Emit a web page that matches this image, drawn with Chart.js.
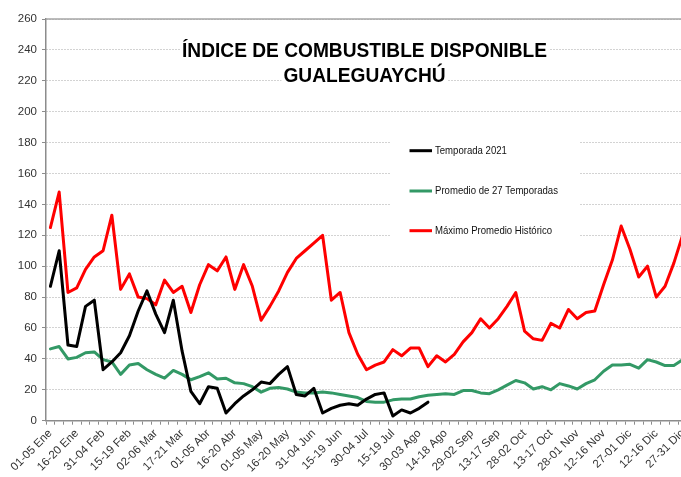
<!DOCTYPE html>
<html>
<head>
<meta charset="utf-8">
<script src="https://cdn.jsdelivr.net/npm/chart.js@4.4.1/dist/chart.umd.min.js"></script>
<style>
html,body{margin:0;padding:0;background:#fff;overflow:hidden;width:681px;height:477px}
#wrap{width:687px;height:477px}
</style>
</head>
<body>
<div id="wrap"><canvas id="c" width="687" height="477"></canvas></div>
<script>
const titleLines = ['ÍNDICE DE COMBUSTIBLE DISPONIBLE', 'GUALEGUAYCHÚ'];

const categories = [
  '01-05 Ene','06-10 Ene','11-15 Ene','16-20 Ene','21-25 Ene','26-30 Ene',
  '31-04 Feb','05-09 Feb','10-14 Feb','15-19 Feb','20-24 Feb','25-01 Mar',
  '02-06 Mar','07-11 Mar','12-16 Mar','17-21 Mar','22-26 Mar','27-31 Mar',
  '01-05 Abr','06-10 Abr','11-15 Abr','16-20 Abr','21-25 Abr','26-30 Abr',
  '01-05 May','06-10 May','11-15 May','16-20 May','21-25 May','26-30 May',
  '31-04 Jun','05-09 Jun','10-14 Jun','15-19 Jun','20-24 Jun','25-29 Jun',
  '30-04 Jul','05-09 Jul','10-14 Jul','15-19 Jul','20-24 Jul','25-29 Jul',
  '30-03 Ago','04-08 Ago','09-13 Ago','14-18 Ago','19-23 Ago','24-28 Ago',
  '29-02 Sep','03-07 Sep','08-12 Sep','13-17 Sep','18-22 Sep','23-27 Sep',
  '28-02 Oct','03-07 Oct','08-12 Oct','13-17 Oct','18-22 Oct','23-27 Oct',
  '28-01 Nov','02-06 Nov','07-11 Nov','12-16 Nov','17-21 Nov','22-26 Nov',
  '27-01 Dic','02-06 Dic','07-11 Dic','12-16 Dic','17-21 Dic','22-26 Dic',
  '27-31 Dic'
];

const tickLabels = [
  '01-05 Ene','16-20 Ene','31-04 Feb','15-19 Feb','02-06 Mar','17-21 Mar',
  '01-05 Abr','16-20 Abr','01-05 May','16-20 May','31-04 Jun','15-19 Jun',
  '30-04 Jul','15-19 Jul','30-03 Ago','14-18 Ago','29-02 Sep','13-17 Sep',
  '28-02 Oct','13-17 Oct','28-01 Nov','12-16 Nov','27-01 Dic','12-16 Dic',
  '27-31 Dic'
];

const yMin = 0;
const yMax = 260;
const yStep = 20;

const seriesNames = ['Temporada 2021', 'Promedio de 27 Temporadas', 'Máximo Promedio Histórico'];

const temporada2021 = [
  87,110,49,48,74,78,33,38,44,55,71,84,69,57,78,45,19,11,
  22,21,5,11,16,20,25,24,30,35,17,16,21,5,8,10,11,10,
  14,17,18,3,7,5,8,12
];

const promedio27 = [
  46.5,48,40,41,44,44.5,39.5,38,30,36,37,33,30,27.5,32.5,30,26.5,28.5,
  31,27,27.5,24.5,24,22,18.5,21,21.5,20.5,18.5,18,18,18.5,18,17,16,15,
  12.5,12,12,13.5,14,14,15.5,16.5,17,17.5,17,19.5,19.5,18,17.5,20,23,26,
  24.5,20.5,22,20,24,22.5,20.5,24,26.5,32,36,36,36.5,34,39.5,38,35.7,35.7,
  39.4
];

const maximoHistorico = [
  125,148,83,86,98,106,110,133,85,95,80,79,75,91,83,87,70,88,
  101,97,106,85,101,87,65,74,84,96,105,110,115,120,78,83,57,43,
  33,36,38,46,42,47,47,35,42,38,43,51,57,66,60,66,74,83,
  58,53,52,63,60,72,66,70,71,88,104,126,111,93,100,80,87,102,
  120
];

const seriesColors = ['#000000', '#339966', '#FF0000'];

const overlay = {
  id: 'overlay',
  beforeDatasetsDraw(chart) {
    const ctx = chart.ctx, a = chart.chartArea;
    ctx.save();
    // solid top border of plot area
    ctx.strokeStyle = '#a6a6a6';
    ctx.lineWidth = 1.5;
    ctx.beginPath();
    ctx.moveTo(a.left, a.top);
    ctx.lineTo(a.right, a.top);
    ctx.stroke();
    // white backgrounds for title lines and legend
    ctx.fillStyle = '#ffffff';
    ctx.font = 'bold 21px "Liberation Sans", Arial, sans-serif';
    const cx = 364.5, sx = 0.912;
    const baselines = [56.7, 81.7];
    titleLines.forEach((t, i) => {
      const w = ctx.measureText(t).width * sx;
      ctx.fillRect(cx - w / 2 - 2, baselines[i] - 19, w + 4, 23);
    });
    ctx.fillRect(390, 122, 190, 126);
    ctx.restore();
  },
  afterDraw(chart) {
    const ctx = chart.ctx;
    ctx.save();
    // title
    ctx.fillStyle = '#000000';
    ctx.font = 'bold 21px "Liberation Sans", Arial, sans-serif';
    ctx.textAlign = 'center';
    ctx.textBaseline = 'alphabetic';
    const cx = 364.5, sx = 0.912;
    const baselines = [56.7, 81.7];
    titleLines.forEach((t, i) => {
      ctx.save();
      ctx.translate(cx, baselines[i]);
      ctx.scale(sx, 1);
      ctx.fillText(t, 0, 0);
      ctx.restore();
    });
    // legend
    const ys = [150.7, 191.0, 230.7];
    seriesNames.forEach((name, i) => {
      ctx.strokeStyle = seriesColors[i];
      ctx.lineWidth = 3;
      ctx.beginPath();
      ctx.moveTo(409.5, ys[i]);
      ctx.lineTo(432, ys[i]);
      ctx.stroke();
      ctx.save();
      ctx.translate(435, ys[i]);
      ctx.scale(0.94, 1);
      ctx.fillStyle = '#111111';
      ctx.font = '10.2px "Liberation Sans", Arial, sans-serif';
      ctx.textAlign = 'left';
      ctx.textBaseline = 'middle';
      ctx.fillText(name, 0, 0);
      ctx.restore();
    });
    ctx.restore();
  }
};

const tickFont = { family: '"Liberation Sans", Arial, sans-serif', size: 11.5 };

new Chart(document.getElementById('c'), {
  type: 'line',
  data: {
    labels: categories,
    datasets: [
      { label: seriesNames[0], data: temporada2021, borderColor: seriesColors[0], backgroundColor: seriesColors[0] },
      { label: seriesNames[1], data: promedio27, borderColor: seriesColors[1], backgroundColor: seriesColors[1] },
      { label: seriesNames[2], data: maximoHistorico, borderColor: seriesColors[2], backgroundColor: seriesColors[2] }
    ]
  },
  options: {
    responsive: false,
    animation: false,
    devicePixelRatio: 1,
    layout: { padding: { top: 19, left: 0, right: 0, bottom: 0 } },
    elements: {
      line: { borderWidth: 3, tension: 0, borderJoinStyle: 'round', borderCapStyle: 'round' },
      point: { radius: 0, hoverRadius: 0 }
    },
    plugins: {
      legend: { display: false },
      title: { display: false },
      tooltip: { enabled: false }
    },
    scales: {
      x: {
        offset: true,
        grid: { offset: true, drawOnChartArea: false, drawTicks: true, tickLength: 4, tickColor: '#8c8c8c', tickWidth: 1 },
        border: { display: true, color: '#8c8c8c', width: 1.5 },
        ticks: {
          autoSkip: false,
          minRotation: 45,
          maxRotation: 45,
          padding: 2,
          color: '#333333',
          font: tickFont,
          callback: function (v, i) {
            const lab = categories[i];
            return tickLabels.includes(lab) ? lab : '';
          }
        },
        afterFit(scale) {
          scale.height = 56.3;
          scale.paddingLeft = 0;
          scale.paddingRight = 0;
        }
      },
      y: {
        min: yMin,
        max: yMax,
        grid: { color: '#a6a6a6', lineWidth: 1, tickLength: 4, tickColor: '#8c8c8c', tickWidth: 1 },
        border: { display: true, color: '#8c8c8c', width: 1.5, dash: [1, 2] },
        ticks: { stepSize: yStep, padding: 5, color: '#333333', font: tickFont },
        afterFit(scale) {
          scale.width = 46;
          scale.paddingTop = 0;
          scale.paddingBottom = 0;
        }
      }
    }
  },
  plugins: [overlay]
});
</script>
</body>
</html>
